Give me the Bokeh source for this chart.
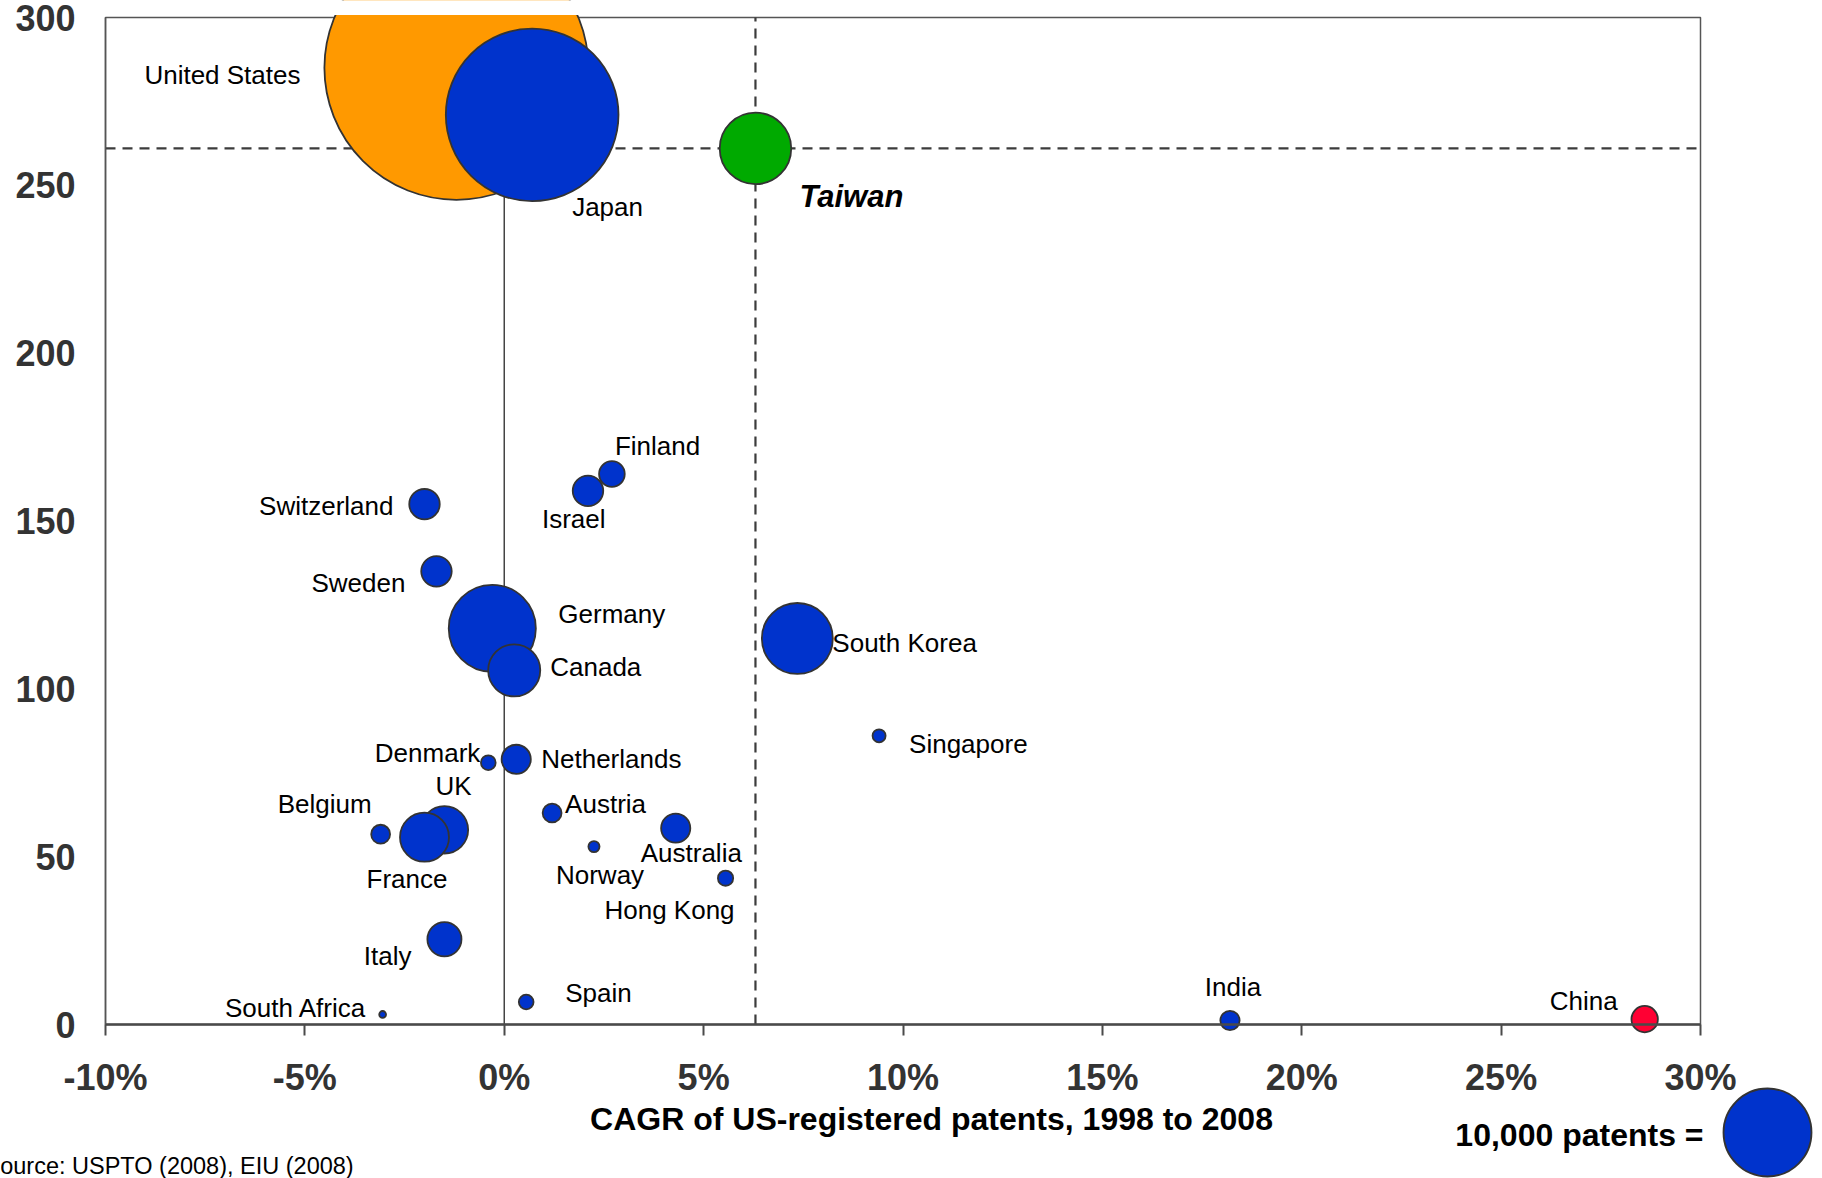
import math

from bokeh.core.properties import value
from bokeh.embed import file_html
from bokeh.models import BoxAnnotation, ColumnDataSource, FixedTicker, Label, Range1d
from bokeh.plotting import figure
from bokeh.resources import INLINE

# --- data -----------------------------------------------------------------
countries = [
    "United States", "Japan", "Taiwan", "Finland", "Israel", "Switzerland",
    "Sweden", "Germany", "Canada", "South Korea", "Singapore", "Denmark",
    "Netherlands", "Belgium", "UK", "France", "Austria", "Norway",
    "Australia", "Hong Kong", "Italy", "Spain", "South Africa", "India", "China",
]
# CAGR of US-registered patents 1998-2008, in percent
cagr_pct = [
    -1.2, 0.7, 6.3, 2.7, 2.1, -2.0,
    -1.7, -0.3, 0.25, 7.35, 9.4, -0.4,
    0.3, -3.1, -1.5, -2.0, 1.2, 2.25,
    4.3, 5.55, -1.5, 0.55, -3.05, 18.2, 28.6,
]
# vertical measure
y_values = [
    285, 271, 261, 164, 159, 155,
    135, 118, 105.5, 115, 86, 78,
    79, 56.7, 58, 55.8, 63, 53,
    58.5, 43.6, 25.4, 6.7, 3.0, 1.2, 1.6,
]
# US-registered patents (bubble area)
patents = [
    90000, 38500, 6600, 850, 1200, 1200,
    1200, 9800, 3500, 6500, 220, 280,
    1100, 460, 2900, 3100, 460, 160,
    1100, 300, 1500, 280, 60, 480, 900,
]

x_ticks = [-10, -5, 0, 5, 10, 15, 20, 25, 30]
x_tick_labels = ["-10%", "-5%", "0%", "5%", "10%", "15%", "20%", "25%", "30%"]
y_ticks = [0, 50, 100, 150, 200, 250, 300]
y_tick_labels = ["0", "50", "100", "150", "200", "250", "300"]

key_patents = 10000
reference_country = "Taiwan"

# --- layout & styling --------------------------------------------------------
W, H = 1822, 1178
PLOT_LEFT, PLOT_RIGHT, PLOT_TOP, PLOT_BOTTOM = 105, 1700, 17, 1024
CUT_TOP = 14.5  # bubbles are cut just above the plot box
FONT = "Liberation Sans"
BLUE = "#0033CC"
highlight = {"United States": "#FF9900", "Taiwan": "#00AA00", "China": "#FF0033"}
KEY_DIAMETER = 88  # px diameter of the key bubble
AXIS_GREY = "#4a4a4a"

X_MIN, X_MAX = x_ticks[0], x_ticks[-1]
Y_MIN, Y_MAX = y_ticks[0], y_ticks[-1]

# the frame covers the whole canvas; the axes sit at fixed data locations
px_per_x = (PLOT_RIGHT - PLOT_LEFT) / (X_MAX - X_MIN)
px_per_y = (PLOT_BOTTOM - PLOT_TOP) / (Y_MAX - Y_MIN)
x_start = X_MIN - PLOT_LEFT / px_per_x
x_end = X_MAX + (W - PLOT_RIGHT) / px_per_x
y_end = Y_MAX + PLOT_TOP / px_per_y
y_start = Y_MIN - (H - PLOT_BOTTOM) / px_per_y


def px_x(px):
    return x_start + px / px_per_x


def px_y(py):
    return y_end - py / px_per_y


def bubble_size(n):
    return KEY_DIAMETER * math.sqrt(n / key_patents)


# label placement: (align, dx px, dy px downwards) relative to bubble centre
label_place = {
    "United States": ("left", -312, 7),
    "Japan": ("left", 40, 92),
    "Taiwan": ("left", 44, 48),
    "Finland": ("left", 3, -28),
    "Israel": ("left", -46, 28),
    "Switzerland": ("right", -31, 2),
    "Sweden": ("right", -31, 12),
    "Germany": ("left", 66, -14),
    "Canada": ("left", 36, -3),
    "South Korea": ("left", 35, 5),
    "Singapore": ("left", 30, 8),
    "Denmark": ("right", -8, -10),
    "Netherlands": ("left", 25, 0),
    "Belgium": ("right", -9, -30),
    "UK": ("center", 9, -44),
    "France": ("left", -58, 42),
    "Austria": ("left", 13, -9),
    "Norway": ("left", -38, 28),
    "Australia": ("left", -35, 25),
    "Hong Kong": ("right", 9, 32),
    "Italy": ("right", -33, 17),
    "Spain": ("left", 39, -9),
    "South Africa": ("right", -16, -6),
    "India": ("center", 3, -33),
    "China": ("right", -27, -18),
}

p = figure(
    width=W, height=H,
    x_range=Range1d(x_start, x_end), y_range=Range1d(y_start, y_end),
    output_backend="svg", toolbar_location=None, min_border=0,
    background_fill_color="white", border_fill_color="white",
)
p.xgrid.visible = False
p.ygrid.visible = False
p.outline_line_color = None

# axes
p.xaxis.fixed_location = Y_MIN
p.xaxis.bounds = (X_MIN, X_MAX)
p.xaxis.ticker = FixedTicker(ticks=x_ticks)
p.xaxis.major_label_overrides = dict(zip(x_ticks, x_tick_labels))
p.yaxis.fixed_location = X_MIN
p.yaxis.bounds = (Y_MIN, Y_MAX)
p.yaxis.ticker = FixedTicker(ticks=y_ticks)
p.yaxis.major_label_overrides = dict(zip(y_ticks, y_tick_labels))
for ax in (p.xaxis, p.yaxis):
    ax.major_label_text_font = FONT
    ax.major_label_text_font_style = "bold"
    ax.major_label_text_font_size = "36px"
    ax.major_label_text_color = "#333333"
    ax.minor_tick_in = 0
    ax.minor_tick_out = 0
p.xaxis.axis_line_color = AXIS_GREY
p.xaxis.axis_line_width = 2.5
p.xaxis.major_tick_in = 0
p.xaxis.major_tick_out = 11
p.xaxis.major_tick_line_color = AXIS_GREY
p.xaxis.major_tick_line_width = 2
p.xaxis.major_label_standoff = 21
p.yaxis.axis_line_color = "#555555"
p.yaxis.axis_line_width = 1.5
p.yaxis.major_tick_in = 0
p.yaxis.major_tick_out = 0
p.yaxis.major_label_standoff = 30

# plot box border
p.add_layout(BoxAnnotation(left=X_MIN, right=X_MAX, bottom=Y_MIN, top=Y_MAX,
                           fill_alpha=0, line_color="#555555", line_alpha=1,
                           line_width=1.5, level="underlay"))

# reference lines: zero growth and the highlighted economy
ref_i = countries.index(reference_country)
p.segment(x0=[0], y0=[Y_MIN], x1=[0], y1=[Y_MAX], line_color="#444444", line_width=1.5)
p.segment(x0=[cagr_pct[ref_i]], y0=[Y_MIN], x1=[cagr_pct[ref_i]], y1=[Y_MAX],
          line_color="#3c3c3c", line_width=2.2, line_dash="10 7")
p.segment(x0=[X_MIN], y0=[y_values[ref_i]], x1=[X_MAX], y1=[y_values[ref_i]],
          line_color="#3c3c3c", line_width=2.2, line_dash="10 7")

# bubbles
src = ColumnDataSource(dict(
    x=cagr_pct, y=y_values, name=countries,
    size=[bubble_size(n) for n in patents],
    color=[highlight.get(c, BLUE) for c in countries],
))
p.scatter(x="x", y="y", size="size", source=src, fill_color="color",
          line_color="#333333", line_width=1.8)

# white band above the plot box trims the largest bubble
p.quad(left=[X_MIN], right=[X_MAX], bottom=[px_y(CUT_TOP)], top=[y_end + 5],
       fill_color="white", line_color=None)

# country labels, grouped by alignment
for align in ("left", "right", "center"):
    rows = [i for i, c in enumerate(countries)
            if label_place[c][0] == align and c != reference_country]
    lab = ColumnDataSource(dict(
        x=[cagr_pct[i] for i in rows],
        y=[y_values[i] for i in rows],
        text=[countries[i] for i in rows],
        dx=[label_place[countries[i]][1] for i in rows],
        dy=[label_place[countries[i]][2] for i in rows],
    ))
    p.text(x="x", y="y", text="text", x_offset="dx", y_offset="dy", source=lab,
           text_font=value(FONT), text_font_size="26px", text_color="black",
           text_align=align, text_baseline="middle")

ref_lab = ColumnDataSource(dict(
    x=[cagr_pct[ref_i]], y=[y_values[ref_i]], text=[reference_country],
    dx=[label_place[reference_country][1]], dy=[label_place[reference_country][2]],
))
p.text(x="x", y="y", text="text", x_offset="dx", y_offset="dy", source=ref_lab,
       text_font=value(FONT), text_font_size="31px", text_font_style="bold italic",
       text_color="black", text_align="left", text_baseline="middle")

# axis title
p.add_layout(Label(x=px_x(931), y=px_y(1118),
                   text="CAGR of US-registered patents, 1998 to 2008",
                   text_font=FONT, text_font_size="32px", text_font_style="bold",
                   text_color="black", text_align="center", text_baseline="middle"))

# bubble size key
p.add_layout(Label(x=px_x(1703), y=px_y(1134), text=f"{key_patents:,} patents =",
                   text_font=FONT, text_font_size="32px", text_font_style="bold",
                   text_color="black", text_align="right", text_baseline="middle"))
p.scatter(x=[px_x(1767)], y=[px_y(1132)], size=bubble_size(key_patents),
          fill_color=BLUE, line_color="#333333", line_width=1.8)

# source note
p.add_layout(Label(x=px_x(-16), y=px_y(1165.5), text="Source: USPTO (2008), EIU (2008)",
                   text_font=FONT, text_font_size="23.5px", text_color="black",
                   text_align="left", text_baseline="middle"))

open("out.html", "w").write(file_html(p, INLINE))
